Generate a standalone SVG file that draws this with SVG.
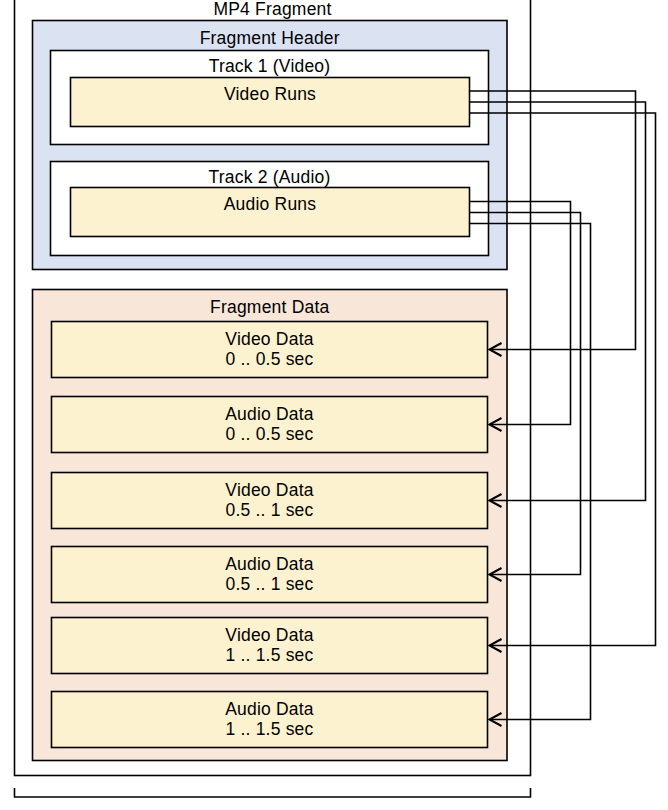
<svg xmlns="http://www.w3.org/2000/svg" width="668" height="810" viewBox="0 0 668 810">
<style>
.box{stroke:#000;stroke-width:1.6}
.outer{fill:#fff}
.hdr{fill:#dbe2f2}
.dat{fill:#f8e6d9}
.trk{fill:#fff}
.run{fill:#fdf2cf}
text{font-family:"Liberation Sans",Arial,sans-serif;font-size:17.5px;letter-spacing:0.2px;fill:#000;text-anchor:middle}
.conn{fill:none;stroke:#000;stroke-width:1.6}
</style>
<defs>
<marker id="arr" markerUnits="userSpaceOnUse" markerWidth="16" markerHeight="16" refX="13" refY="7" orient="auto" overflow="visible">
<path d="M1,0.5 L13,7 L1,13.5" fill="none" stroke="#000" stroke-width="2"/>
</marker>
</defs>
<g id="mp4-fragment">
<rect class="box outer" x="14.5" y="-10" width="516" height="785.5"/>
<text x="272.5" y="14.5">MP4 Fragment</text>
</g>
<g id="bracket">
<path class="conn" d="M14.5,788 V797 H530.5 V788"/>
</g>
<g id="fragment-header">
<rect class="box hdr" x="32.5" y="20.5" width="474.5" height="249"/>
<text x="269.75" y="44.3">Fragment Header</text>
</g>
<g id="track1">
<rect class="box trk" x="50.5" y="50.5" width="438" height="94"/>
<text x="269.5" y="72.3">Track 1 (Video)</text>
</g>
<g id="video-runs">
<rect class="box run" x="70.5" y="77.5" width="399" height="49"/>
<text x="270" y="100">Video Runs</text>
</g>
<g id="track2">
<rect class="box trk" x="50.5" y="161.5" width="438" height="94"/>
<text x="269.5" y="183.3">Track 2 (Audio)</text>
</g>
<g id="audio-runs">
<rect class="box run" x="70.5" y="187.5" width="399" height="49"/>
<text x="270" y="210">Audio Runs</text>
</g>
<g id="fragment-data">
<rect class="box dat" x="32.5" y="289.5" width="474.5" height="471"/>
<text x="269.75" y="313">Fragment Data</text>
</g>
<g id="video-data-1">
<rect class="box run" x="51.5" y="321.5" width="436" height="56"/>
<text x="269.5" y="345">Video Data</text>
<text x="269.5" y="365">0 .. 0.5 sec</text>
</g>
<g id="audio-data-1">
<rect class="box run" x="51.5" y="396.5" width="436" height="56"/>
<text x="269.5" y="420">Audio Data</text>
<text x="269.5" y="440">0 .. 0.5 sec</text>
</g>
<g id="video-data-2">
<rect class="box run" x="51.5" y="472.5" width="436" height="56"/>
<text x="269.5" y="496">Video Data</text>
<text x="269.5" y="516">0.5 .. 1 sec</text>
</g>
<g id="audio-data-2">
<rect class="box run" x="51.5" y="546.5" width="436" height="56"/>
<text x="269.5" y="570">Audio Data</text>
<text x="269.5" y="590">0.5 .. 1 sec</text>
</g>
<g id="video-data-3">
<rect class="box run" x="51.5" y="617.5" width="436" height="56"/>
<text x="269.5" y="641">Video Data</text>
<text x="269.5" y="661">1 .. 1.5 sec</text>
</g>
<g id="audio-data-3">
<rect class="box run" x="51.5" y="691.5" width="436" height="56"/>
<text x="269.5" y="715">Audio Data</text>
<text x="269.5" y="735">1 .. 1.5 sec</text>
</g>
<g id="connectors">
<path class="conn" marker-end="url(#arr)" d="M469.5,91 H635.5 V349.5 H489.5"/>
<path class="conn" marker-end="url(#arr)" d="M469.5,102 H645.5 V500.5 H489.5"/>
<path class="conn" marker-end="url(#arr)" d="M469.5,113 H655.5 V645.5 H489.5"/>
<path class="conn" marker-end="url(#arr)" d="M469.5,201.5 H570.5 V424.5 H489.5"/>
<path class="conn" marker-end="url(#arr)" d="M469.5,212.5 H580.5 V574.5 H489.5"/>
<path class="conn" marker-end="url(#arr)" d="M469.5,223.5 H590.5 V719.5 H489.5"/>
</g>
</svg>
